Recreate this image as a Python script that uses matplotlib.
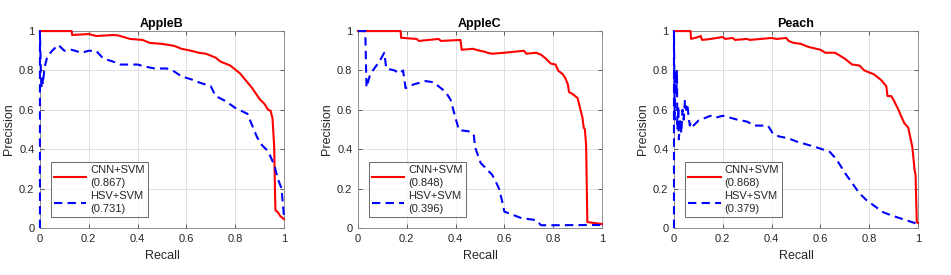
import matplotlib
matplotlib.use("Agg")
import matplotlib.pyplot as plt

plt.rcParams['font.family'] = ['Liberation Sans', 'DejaVu Sans']

# ---- data ----
titles = ['AppleB', 'AppleC', 'Peach']
cnn_ap = ['0.867', '0.848', '0.868']
hsv_ap = ['0.731', '0.396', '0.379']
tick_vals = [0, 0.2, 0.4, 0.6, 0.8, 1]
tick_labels = ['0', '0.2', '0.4', '0.6', '0.8', '1']

appleb_cnn_r = [0, 0.13, 0.132, 0.2, 0.23, 0.3, 0.32, 0.37, 0.42, 0.45, 0.5, 0.55, 0.58,
                0.62, 0.65, 0.68, 0.72, 0.74, 0.78, 0.8, 0.82, 0.85, 0.87, 0.9, 0.92,
                0.935, 0.945, 0.953, 0.96, 0.963, 0.965, 0.975, 0.985, 1.0]
appleb_cnn_p = [1, 1, 0.98, 0.985, 0.975, 0.98, 0.978, 0.96, 0.955, 0.94, 0.935, 0.925, 0.91,
                0.9, 0.89, 0.885, 0.865, 0.845, 0.825, 0.805, 0.785, 0.74, 0.71, 0.655, 0.63,
                0.6, 0.596, 0.557, 0.41, 0.2, 0.09, 0.08, 0.06, 0.045]
appleb_hsv_r = [0, 0, 0.004, 0.007, 0.01, 0.012, 0.015, 0.02, 0.03, 0.05, 0.075, 0.1, 0.13,
                0.17, 0.2, 0.23, 0.26, 0.3, 0.33, 0.36, 0.4, 0.43, 0.47, 0.52, 0.55, 0.58,
                0.62, 0.65, 0.7, 0.72, 0.76, 0.8, 0.85, 0.87, 0.89, 0.91, 0.935, 0.96,
                0.975, 0.99, 1.0]
appleb_hsv_p = [0, 1, 0.78, 0.72, 0.76, 0.73, 0.77, 0.82, 0.87, 0.9, 0.93, 0.9, 0.905,
                0.89, 0.9, 0.9, 0.86, 0.845, 0.83, 0.83, 0.83, 0.82, 0.81, 0.81, 0.795, 0.77,
                0.755, 0.74, 0.72, 0.67, 0.645, 0.61, 0.58, 0.52, 0.46, 0.42, 0.39, 0.32,
                0.25, 0.2, 0.06]

applec_cnn_r = [0, 0.175, 0.177, 0.24, 0.25, 0.33, 0.34, 0.42, 0.425, 0.47, 0.5, 0.52, 0.53,
                0.55, 0.6, 0.68, 0.69, 0.73, 0.75, 0.77, 0.79, 0.81, 0.82, 0.84, 0.85,
                0.86, 0.865, 0.88, 0.9, 0.91, 0.92, 0.925, 0.93, 0.935, 0.94, 1.0]
applec_cnn_p = [1, 1, 0.966, 0.96, 0.95, 0.96, 0.95, 0.955, 0.905, 0.91, 0.9, 0.895, 0.89,
                0.885, 0.89, 0.9, 0.885, 0.89, 0.88, 0.86, 0.835, 0.83, 0.8, 0.78, 0.76,
                0.73, 0.69, 0.68, 0.66, 0.61, 0.56, 0.51, 0.5, 0.42, 0.03, 0.02]
applec_hsv_r = [0, 0.03, 0.035, 0.05, 0.09, 0.108, 0.116, 0.15, 0.17, 0.185, 0.195, 0.23,
                0.277, 0.31, 0.36, 0.38, 0.4, 0.414, 0.46, 0.475, 0.48, 0.503, 0.55, 0.565,
                0.578, 0.59, 0.6, 0.67, 0.73, 0.75, 0.8, 0.95, 1.0]
applec_hsv_p = [1, 1, 0.714, 0.78, 0.85, 0.89, 0.81, 0.8, 0.785, 0.8, 0.71, 0.73,
                0.746, 0.74, 0.69, 0.65, 0.557, 0.497, 0.49, 0.47, 0.41, 0.33, 0.27, 0.235,
                0.2, 0.14, 0.083, 0.05, 0.04, 0.014, 0.014, 0.015, 0.015]

peach_cnn_r = [0, 0.068, 0.07, 0.1, 0.11, 0.115, 0.15, 0.2, 0.21, 0.24, 0.25, 0.3, 0.31,
               0.4, 0.42, 0.46, 0.47, 0.49, 0.52, 0.55, 0.6, 0.62, 0.66, 0.7, 0.73, 0.76,
               0.78, 0.82, 0.85, 0.87, 0.875, 0.89, 0.9, 0.92, 0.93, 0.945, 0.96, 0.977,
               0.986, 0.99, 0.995, 1.0]
peach_cnn_p = [1, 1, 0.96, 0.97, 0.975, 0.955, 0.96, 0.97, 0.96, 0.965, 0.955, 0.96, 0.955,
               0.965, 0.96, 0.965, 0.95, 0.94, 0.935, 0.92, 0.905, 0.89, 0.89, 0.86, 0.83,
               0.825, 0.8, 0.78, 0.75, 0.72, 0.67, 0.67, 0.65, 0.6, 0.57, 0.53, 0.51, 0.41,
               0.294, 0.27, 0.03, 0.025]
peach_hsv_r = [0, 0, 0.003, 0.006, 0.01, 0.012, 0.014, 0.018, 0.02, 0.025, 0.03, 0.035,
               0.04, 0.045, 0.05, 0.055, 0.06, 0.065, 0.07, 0.08, 0.1, 0.13, 0.15, 0.17,
               0.2, 0.23, 0.26, 0.3, 0.33, 0.385, 0.405, 0.43, 0.47, 0.5, 0.583, 0.638,
               0.665, 0.706, 0.76, 0.79, 0.857, 0.9, 0.95, 1.0]
peach_hsv_p = [0, 1, 0.55, 0.8, 0.7, 0.8, 0.5, 0.62, 0.45, 0.55, 0.48, 0.6,
               0.55, 0.65, 0.6, 0.63, 0.56, 0.52, 0.54, 0.52, 0.545, 0.56, 0.57, 0.56,
               0.57, 0.56, 0.55, 0.54, 0.52, 0.52, 0.48, 0.465, 0.455, 0.44, 0.41, 0.387,
               0.35, 0.27, 0.176, 0.14, 0.08, 0.06, 0.04, 0.02]

curves = [
    (appleb_cnn_r, appleb_cnn_p, appleb_hsv_r, appleb_hsv_p),
    (applec_cnn_r, applec_cnn_p, applec_hsv_r, applec_hsv_p),
    (peach_cnn_r, peach_cnn_p, peach_hsv_r, peach_hsv_p),
]

fig = plt.figure(figsize=(9.51, 2.75), dpi=100)
lefts = [0.042, 0.3764, 0.7087]
axis_col = '#262626'

for i, left in enumerate(lefts):
    ax = fig.add_axes([left, 0.171, 0.2566, 0.716])
    cr, cp, hr, hp = curves[i]
    # MATLAB style: lines are not clipped at the box edge
    ax.plot(cr, cp, color='#ff0000', lw=1.5, clip_on=False, zorder=3,
            label='CNN+SVM\n(' + cnn_ap[i] + ')')
    ax.plot(hr, hp, color='#0000ff', lw=1.5, ls=(0, (4, 2.5)), clip_on=False, zorder=3,
            label='HSV+SVM\n(' + hsv_ap[i] + ')')

    ax.set_xlim(0, 1)
    ax.set_ylim(0, 1)
    ax.set_xticks(tick_vals)
    ax.set_xticklabels(tick_labels)
    ax.set_yticks(tick_vals)
    ax.set_yticklabels(tick_labels)
    ax.tick_params(direction='in', length=3, width=0.5, labelsize=8,
                   colors=axis_col, top=True, right=True, pad=4)
    ax.grid(True, color='#dcdcdc', lw=0.6)
    ax.set_axisbelow(True)
    for s in ax.spines.values():
        s.set_color('#808080')
        s.set_linewidth(0.6)

    ax.set_xlabel('Recall', fontsize=9, color=axis_col, labelpad=5)
    ax.set_ylabel('Precision', fontsize=9, color=axis_col, labelpad=3)
    ax.set_title(titles[i], fontsize=9, fontweight='bold', pad=3)

    leg = ax.legend(loc='lower left', bbox_to_anchor=(0.045, 0.056),
                    fontsize=8, frameon=True, fancybox=False,
                    handlelength=2.9, handletextpad=0.35, borderpad=0.3,
                    labelspacing=0.3, borderaxespad=0)
    leg.get_frame().set_edgecolor(axis_col)
    leg.get_frame().set_linewidth(0.6)
    leg.set_zorder(5)
    for t in leg.get_texts():
        t.set_color(axis_col)
        t.set_linespacing(1.3)

fig.savefig('out.png', dpi=100, facecolor='white')
